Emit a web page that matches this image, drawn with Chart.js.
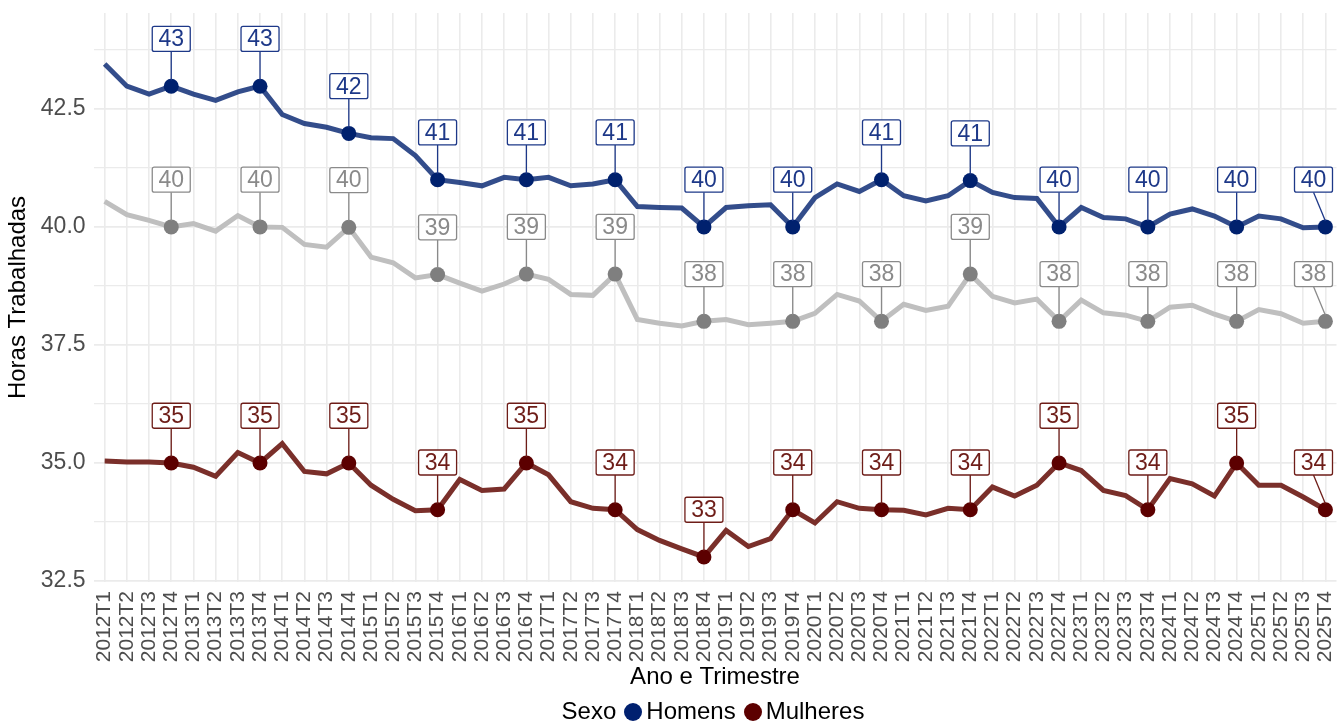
<!DOCTYPE html>
<html>
<head>
<meta charset="utf-8">
<script src="https://cdn.jsdelivr.net/npm/chart.js@4.4.1/dist/chart.umd.min.js"></script>
<style>
  html, body { margin: 0; padding: 0; background: #fff; }
  #wrap { position: relative; width: 1340px; height: 723px; overflow: hidden; }
  #legend {
    position: absolute; left: 86px; right: 0; top: 696px; text-align: center;
    font: 24px "Liberation Sans", Arial, sans-serif; color: #000; line-height: 30px;
  }
  .dot { display: inline-block; width: 18px; height: 18px; border-radius: 50%; vertical-align: -2px; margin: 0 4px 0 8px; }
</style>
</head>
<body>
<div id="wrap">
  <canvas id="chart" width="1344" height="723"></canvas>
  <div id="legend">Sexo<span class="dot" style="background:#00206f"></span>Homens<span class="dot" style="background:#5c0000"></span>Mulheres</div>
</div>
<script>
const quarters = [
  "2012T1","2012T2","2012T3","2012T4","2013T1","2013T2","2013T3","2013T4",
  "2014T1","2014T2","2014T3","2014T4","2015T1","2015T2","2015T3","2015T4",
  "2016T1","2016T2","2016T3","2016T4","2017T1","2017T2","2017T3","2017T4",
  "2018T1","2018T2","2018T3","2018T4","2019T1","2019T2","2019T3","2019T4",
  "2020T1","2020T2","2020T3","2020T4","2021T1","2021T2","2021T3","2021T4",
  "2022T1","2022T2","2022T3","2022T4","2023T1","2023T2","2023T3","2023T4",
  "2024T1","2024T2","2024T3","2024T4","2025T1","2025T2","2025T3","2025T4"
];

const homens = [
  43.45, 42.98, 42.81, 42.98, 42.81, 42.68, 42.86, 42.98, 42.38, 42.19,
  42.11, 41.98, 41.89, 41.87, 41.51, 41.00, 40.94, 40.87, 41.05, 41.00,
  41.05, 40.87, 40.91, 41.00, 40.43, 40.41, 40.40, 40.00, 40.41, 40.45,
  40.47, 40.00, 40.62, 40.91, 40.75, 41.00, 40.66, 40.55, 40.66, 40.98,
  40.73, 40.62, 40.60, 40.00, 40.41, 40.20, 40.17, 40.00, 40.27, 40.38,
  40.23, 40.00, 40.23, 40.17, 39.98, 40.00
];

const total = [
  40.54, 40.26, 40.14, 40.00, 40.07, 39.91, 40.24, 40.00, 39.99, 39.63,
  39.57, 39.99, 39.36, 39.24, 38.92, 38.99, 38.81, 38.64, 38.79, 39.00,
  38.89, 38.57, 38.55, 39.00, 38.04, 37.96, 37.90, 38.00, 38.04, 37.93,
  37.96, 38.00, 38.17, 38.57, 38.43, 38.00, 38.36, 38.23, 38.32, 39.00,
  38.53, 38.39, 38.47, 38.00, 38.45, 38.18, 38.13, 38.00, 38.30, 38.34,
  38.15, 38.00, 38.25, 38.16, 37.96, 38.00
];

const mulheres = [
  35.04, 35.02, 35.02, 35.00, 34.91, 34.72, 35.22, 35.00, 35.41, 34.82,
  34.77, 35.00, 34.53, 34.23, 33.99, 34.01, 34.65, 34.42, 34.45, 35.00,
  34.75, 34.18, 34.04, 34.01, 33.59, 33.36, 33.18, 33.01, 33.57, 33.23,
  33.40, 34.01, 33.73, 34.18, 34.04, 34.01, 34.00, 33.90, 34.04, 34.01,
  34.49, 34.30, 34.53, 35.00, 34.84, 34.42, 34.31, 34.01, 34.67, 34.56,
  34.30, 35.00, 34.53, 34.53, 34.28, 34.01
];

const yTicks = [32.5, 33.75, 35, 36.25, 37.5, 38.75, 40, 41.25, 42.5, 43.75];

const FONT = '"Liberation Sans", Arial, sans-serif';
const isMarked = (i) => i % 4 === 3;

// boxed labels above the T4 points, like geom_label with a connector
const labelPlugin = {
  id: 'pointLabels',
  afterDatasetsDraw(chart) {
    const ctx = chart.ctx;
    const yScale = chart.scales.y;
    const area = chart.chartArea;
    ctx.save();
    chart.data.datasets.forEach((ds, di) => {
      const meta = chart.getDatasetMeta(di);
      meta.data.forEach((pt, i) => {
        if (!isMarked(i)) return;
        const v = ds.data[i];
        const w = 38, h = 25;
        const ly = yScale.getPixelForValue(v + 1);
        const lx = Math.min(pt.x, area.right - w / 2 - 4);
        ctx.strokeStyle = ds.labelBorder;
        ctx.lineWidth = 1.3;
        ctx.beginPath();
        ctx.moveTo(pt.x, pt.y - 6);
        ctx.lineTo(lx, ly + h / 2);
        ctx.stroke();
        ctx.fillStyle = '#fff';
        ctx.beginPath();
        ctx.roundRect(lx - w / 2, ly - h / 2, w, h, 2);
        ctx.fill();
        ctx.stroke();
        ctx.fillStyle = ds.labelColor;
        ctx.font = '23px ' + FONT;
        ctx.textAlign = 'center';
        ctx.textBaseline = 'middle';
        ctx.fillText(String(Math.round(v)), lx, ly + 1);
      });
    });
    ctx.restore();
  }
};

const makeSet = (label, values, lineColor, pointColor, labelColor) => ({
  label,
  data: values,
  borderColor: lineColor,
  backgroundColor: pointColor,
  borderWidth: 5,
  tension: 0,
  pointRadius: (c) => isMarked(c.dataIndex) ? 7.5 : 0,
  pointHoverRadius: (c) => isMarked(c.dataIndex) ? 7.5 : 0,
  pointBackgroundColor: pointColor,
  pointBorderWidth: 0,
  labelBorder: labelColor,
  labelColor: labelColor
});

// drop the extra room chart.js keeps for the outer tick labels
const noEdgePad = (axis) => {
  axis.paddingLeft = 0; axis.paddingRight = 0;
  axis.paddingTop = 0; axis.paddingBottom = 0;
};

new Chart(document.getElementById('chart'), {
  type: 'line',
  data: {
    labels: quarters,
    datasets: [
      makeSet('Homens', homens, 'rgba(0,33,110,0.8)', '#00216e', '#1d3888'),
      makeSet('Total', total, '#bfbfbf', '#7f7f7f', '#8a8a8a'),
      makeSet('Mulheres', mulheres, '#7a2f2a', '#5c0000', '#6e1d18')
    ]
  },
  options: {
    responsive: false,
    animation: false,
    layout: { padding: { top: 13, right: 0, bottom: 31, left: 4 } },
    plugins: {
      legend: { display: false },
      tooltip: { enabled: false }
    },
    scales: {
      x: {
        type: 'category',
        offset: true,
        afterFit: noEdgePad,
        grid: { offset: false, color: '#ebebeb', lineWidth: 1.6, drawTicks: false },
        border: { display: false },
        ticks: {
          autoSkip: false, maxRotation: 90, minRotation: 90, padding: 9,
          color: '#4d4d4d', font: { family: FONT, size: 21 }
        },
        title: {
          display: true, text: 'Ano e Trimestre', color: '#000',
          font: { family: FONT, size: 24 }, padding: { top: -8, bottom: 0 }
        }
      },
      y: {
        min: 32.48,
        max: 44.53,
        afterFit: noEdgePad,
        afterBuildTicks: (axis) => { axis.ticks = yTicks.map((v) => ({ value: v })); },
        grid: { color: '#ebebeb', lineWidth: (c) => (c.tick && c.tick.value % 2.5 === 0) ? 1.8 : 1.3, drawTicks: false },
        border: { display: false },
        ticks: {
          padding: 8, color: '#4d4d4d', font: { family: FONT, size: 23 },
          callback: (v) => (v % 2.5 === 0 ? v.toFixed(1) : '')
        },
        title: {
          display: true, text: 'Horas Trabalhadas', color: '#000',
          font: { family: FONT, size: 24 }, padding: { top: 0, bottom: 0 }
        }
      }
    }
  },
  plugins: [labelPlugin]
});
</script>
</body>
</html>
